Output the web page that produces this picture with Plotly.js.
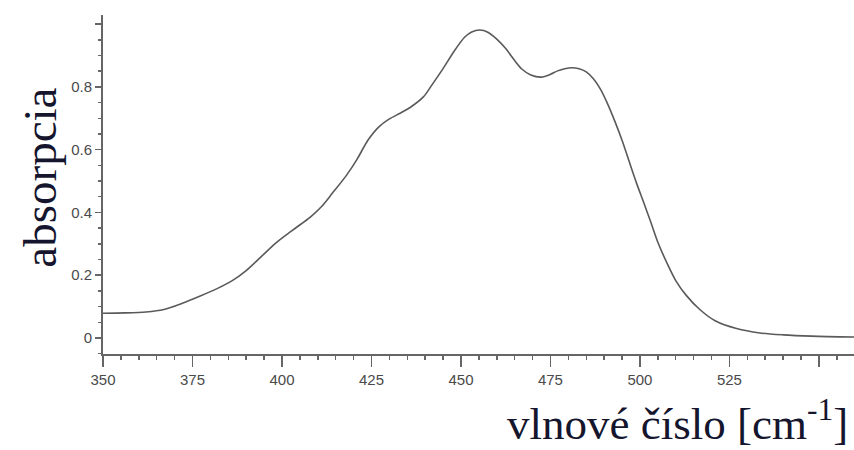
<!DOCTYPE html>
<html>
<head>
<meta charset="utf-8">
<script src="https://cdn.plot.ly/plotly-3.0.1.min.js"></script>
<style>html,body{margin:0;padding:0;background:#fff;}#chart{width:854px;height:450px;}</style>
</head>
<body>
<div id="chart"></div>
<script>
const wavenumber = [350, 356, 362, 367, 372, 377, 382, 386, 390, 394, 398, 401, 404, 408, 411, 414, 418, 421, 424, 427, 430, 433, 436, 439.5, 442, 445, 448, 451, 453, 455.3, 457.5, 460, 462.5, 465, 467, 469.5, 472.5, 475, 477, 479, 481, 483, 485, 487, 489, 491, 493, 495, 497, 499, 501, 503, 505, 507.5, 510, 513, 516.8, 521, 527, 533.5, 540, 548, 560];
const absorbance = [0.079, 0.080, 0.083, 0.091, 0.110, 0.133, 0.158, 0.182, 0.215, 0.257, 0.300, 0.327, 0.352, 0.386, 0.418, 0.460, 0.518, 0.570, 0.630, 0.672, 0.698, 0.716, 0.736, 0.768, 0.808, 0.858, 0.912, 0.958, 0.975, 0.981, 0.974, 0.952, 0.922, 0.884, 0.857, 0.838, 0.831, 0.840, 0.851, 0.858, 0.861, 0.858, 0.848, 0.826, 0.792, 0.745, 0.690, 0.630, 0.562, 0.495, 0.433, 0.370, 0.305, 0.240, 0.183, 0.135, 0.090, 0.055, 0.030, 0.016, 0.010, 0.006, 0.003];

const xTickVals = [350, 375, 400, 425, 450, 475, 500, 525, 550];
const xTickText = ['350', '375', '400', '425', '450', '475', '500', '525', ''];
const yTickVals = [0, 0.2, 0.4, 0.6, 0.8, 1.0];
const yTickText = ['0', '0.2', '0.4', '0.6', '0.8', ''];

const yTitle = 'absorpcia';
const xTitle = 'vlnové číslo [cm<sup>-1</sup>]';

const axisColor = '#666666';
const tickFont = {family: 'Liberation Sans, Arial, sans-serif', size: 15, color: '#4a4a4a'};
const yTitleFont = {family: 'Liberation Serif, Times New Roman, serif', size: 47, color: '#15152e'};
const xTitleFont = {family: 'Liberation Serif, Times New Roman, serif', size: 45, color: '#15152e'};

const trace = {
  x: wavenumber,
  y: absorbance,
  type: 'scatter',
  mode: 'lines',
  line: {color: '#5a5a5a', width: 1.6, shape: 'spline', smoothing: 0.8},
  hoverinfo: 'none'
};

const layout = {
  width: 854,
  height: 450,
  margin: {l: 103, r: 0, t: 15, b: 96, pad: 0},
  paper_bgcolor: '#ffffff',
  plot_bgcolor: '#ffffff',
  showlegend: false,
  xaxis: {
    range: [350, 559.8],
    tickmode: 'array',
    tickvals: xTickVals,
    ticktext: xTickText,
    ticks: 'outside',
    ticklen: 11,
    tickwidth: 1.5,
    tickcolor: axisColor,
    tickfont: tickFont,
    showline: true,
    linecolor: axisColor,
    linewidth: 2,
    showgrid: false,
    zeroline: false,
    minor: {dtick: 5, tick0: 350, ticks: 'outside', ticklen: 4, tickwidth: 1.5, tickcolor: axisColor, showgrid: false}
  },
  yaxis: {
    range: [-0.051, 1.029],
    tickmode: 'array',
    tickvals: yTickVals,
    ticktext: yTickText,
    ticks: 'outside',
    ticklen: 6,
    tickwidth: 1.5,
    tickcolor: axisColor,
    tickfont: tickFont,
    showline: true,
    linecolor: axisColor,
    linewidth: 2,
    showgrid: false,
    zeroline: false,
    minor: {dtick: 0.05, tick0: 0, ticks: 'outside', ticklen: 3, tickwidth: 1.5, tickcolor: axisColor, showgrid: false}
  },
  annotations: [
    {
      text: yTitle, xref: 'paper', yref: 'paper',
      x: -0.084, y: 0.52, xanchor: 'center', yanchor: 'middle',
      textangle: -90, showarrow: false, font: yTitleFont
    },
    {
      text: xTitle, xref: 'paper', yref: 'paper',
      x: 0.995, y: -0.195, xanchor: 'right', yanchor: 'middle',
      showarrow: false, font: xTitleFont
    }
  ]
};

Plotly.newPlot('chart', [trace], layout, {staticPlot: true, displayModeBar: false});
</script>
</body>
</html>
